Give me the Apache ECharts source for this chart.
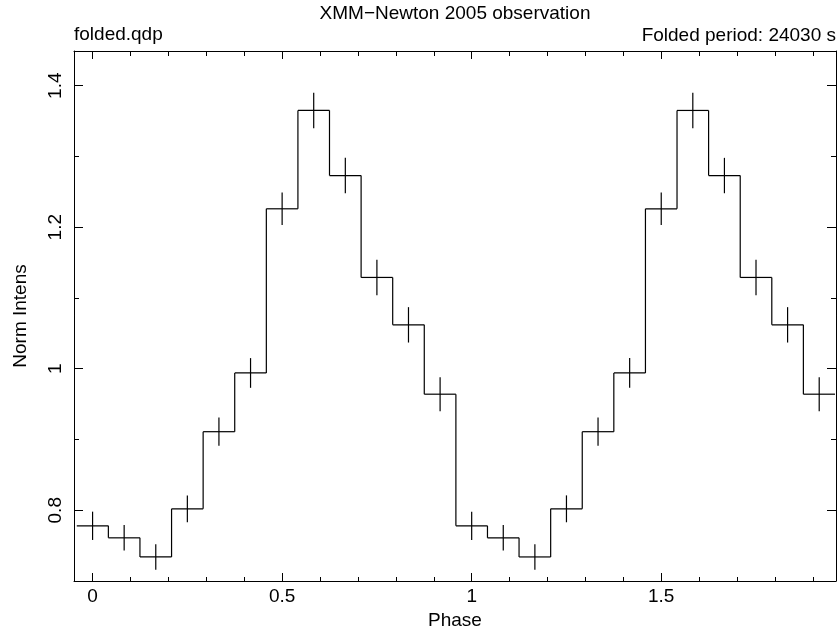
<!DOCTYPE html>
<html>
<head>
<meta charset="utf-8">
<script src="https://cdn.jsdelivr.net/npm/echarts@6/dist/echarts.min.js"></script>
<style>
html,body{margin:0;padding:0;background:#fff;}
#chart{width:840px;height:633px;}
</style>
</head>
<body>
<div id="chart"></div>
<script>
// Phase bin centres (two folded cycles, 12 bins per cycle)
const phase = [0, 0.0833, 0.1667, 0.25, 0.3333, 0.4167, 0.5, 0.5833, 0.6667, 0.75, 0.8333, 0.9167,
               1, 1.0833, 1.1667, 1.25, 1.3333, 1.4167, 1.5, 1.5833, 1.6667, 1.75, 1.8333, 1.9167];
// Normalised intensity per bin
const intensity = [0.778, 0.761, 0.734, 0.802, 0.911, 0.994, 1.226, 1.365, 1.273, 1.129, 1.062, 0.964,
                   0.778, 0.761, 0.734, 0.802, 0.911, 0.994, 1.226, 1.365, 1.273, 1.129, 1.062, 0.964];
// 1-sigma errors per bin
const errors = [0.020, 0.018, 0.018, 0.019, 0.020, 0.021, 0.023, 0.025, 0.025, 0.025, 0.025, 0.024,
                0.020, 0.018, 0.018, 0.019, 0.020, 0.021, 0.023, 0.025, 0.025, 0.025, 0.025, 0.024];

const xTickLabels = [0, 0.5, 1, 1.5];
const yTickLabels = [0.8, 1, 1.2, 1.4];

const xRange = [-0.049, 1.961];
const yRange = [0.70, 1.449];

const titleText = 'XMM\u2212Newton 2005 observation';
const leftLabel = 'folded.qdp';
const rightLabel = 'Folded period: 24030 s';
const xName = 'Phase';
const yName = 'Norm Intens';

const FONT = '"Liberation Sans", Arial, Helvetica, sans-serif';
const black = '#000';
const binWidth = phase[1] - phase[0];

function baseAxis(range, step, minorSplit, majorLen, minorLen, position) {
  return {
    type: 'value', position: position, min: range[0], max: range[1],
    minInterval: step, maxInterval: step,
    axisLine: { show: true, onZero: false, lineStyle: { color: black, width: 1 } },
    axisTick: { show: true, inside: true, length: majorLen, lineStyle: { color: black, width: 1 } },
    minorTick: { show: true, splitNumber: minorSplit, length: minorLen, lineStyle: { color: black, width: 1 } },
    axisLabel: { show: false },
    splitLine: { show: false },
    minorSplitLine: { show: false }
  };
}

const xBottom = baseAxis(xRange, 0.5, 5, 8, 4, 'bottom');
xBottom.axisLabel = { show: true, customValues: xTickLabels, margin: 6, color: black, fontSize: 19, fontFamily: FONT };
xBottom.name = xName; xBottom.nameLocation = 'middle'; xBottom.nameGap = 28;
xBottom.nameTextStyle = { color: black, fontSize: 19, fontFamily: FONT };
const xTop = baseAxis(xRange, 0.5, 5, 8, 5, 'top');

const yLeft = baseAxis(yRange, 0.2, 2, 9, 5, 'left');
yLeft.axisLabel = { show: true, customValues: yTickLabels, rotate: 90, margin: 9, color: black, fontSize: 19, fontFamily: FONT };
yLeft.name = yName; yLeft.nameLocation = 'middle'; yLeft.nameGap = 44; yLeft.nameRotate = 90;
yLeft.nameTextStyle = { color: black, fontSize: 19, fontFamily: FONT };
const yRight = baseAxis(yRange, 0.2, 2, 9, 5, 'right');

const chart = echarts.init(document.getElementById('chart'), null, { renderer: 'canvas' });

const option = {
  backgroundColor: '#fff',
  animation: false,
  grid: { left: 74, right: 4, top: 51, bottom: 52, containLabel: false, outerBoundsMode: 'none' },
  graphic: [
    { type: 'text', style: { x: 455, y: 13.5, text: titleText, font: '19px ' + FONT, fill: black, textAlign: 'center', textVerticalAlign: 'middle' } },
    { type: 'text', style: { x: 74, y: 35, text: leftLabel, font: '19px ' + FONT, fill: black, textAlign: 'left', textVerticalAlign: 'middle' } },
    { type: 'text', style: { x: 836, y: 36, text: rightLabel, font: '19px ' + FONT, fill: black, textAlign: 'right', textVerticalAlign: 'middle' } }
  ],
  xAxis: [xBottom, xTop],
  yAxis: [yLeft, yRight],
  series: [{
    type: 'custom',
    xAxisIndex: 0, yAxisIndex: 0,
    clip: false,
    data: phase.map((p, i) => [p, intensity[i], errors[i]]),
    renderItem: function (params, api) {
      const i = params.dataIndex;
      const x = api.value(0), y = api.value(1), e = api.value(2);
      const hw = binWidth / 2;
      const pL = api.coord([x - hw, y]);
      const pR = api.coord([x + hw, y]);
      const pT = api.coord([x, y + e]);
      const pB = api.coord([x, y - e]);
      const st = { stroke: black, lineWidth: 1.2, fill: null };
      const children = [
        { type: 'line', shape: { x1: pL[0], y1: pL[1], x2: pR[0], y2: pR[1] }, style: st },
        { type: 'line', shape: { x1: pT[0], y1: pT[1], x2: pB[0], y2: pB[1] }, style: st }
      ];
      if (i < intensity.length - 1) {
        const pN = api.coord([x + hw, intensity[i + 1]]);
        children.push({ type: 'line', shape: { x1: pR[0], y1: pR[1], x2: pN[0], y2: pN[1] }, style: st });
      }
      return { type: 'group', children: children };
    }
  }]
};
chart.setOption(option);
</script>
</body>
</html>
